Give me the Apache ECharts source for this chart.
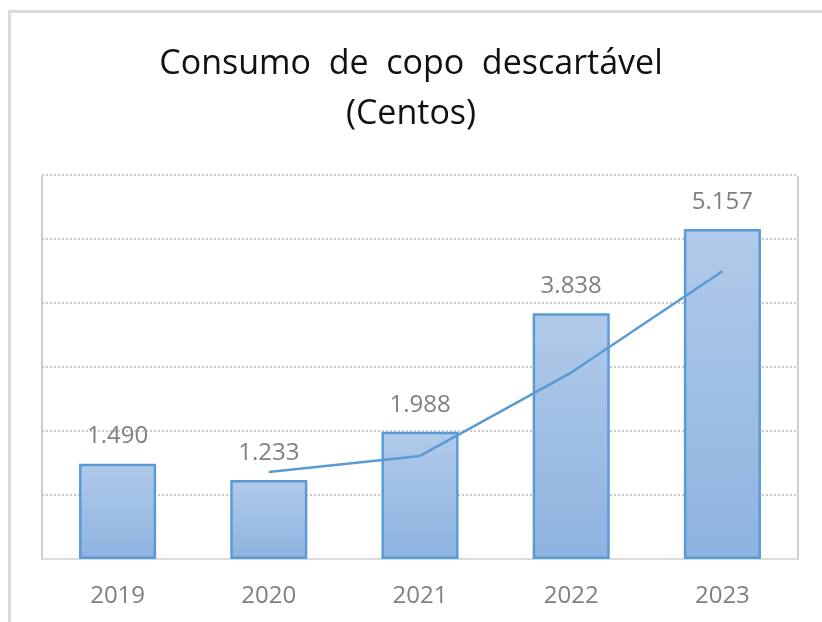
<!DOCTYPE html>
<html>
<head>
<meta charset="utf-8">
<script src="https://cdn.jsdelivr.net/npm/echarts@6/dist/echarts.min.js"></script>
<style>
  html, body { margin: 0; padding: 0; background: #fff; }
  #chart { width: 822px; height: 622px; }
  .frame { position: absolute; left: 8px; top: 10px; width: 830px; height: 630px;
    border-left: 3px solid #dadada; border-top: 3px solid #dadada; pointer-events: none; }
</style>
</head>
<body>
<div id="chart"></div>
<div class="frame"></div>
<script>
  // dados
  var anos = ['2019', '2020', '2021', '2022', '2023']
  var consumo = [1490, 1233, 1988, 3838, 5157]
  // linha de tendência (média móvel)
  var tendencia = [null, 1361, 1610, 2913, 4497]

  var fonte = '"Open Sans", "Noto Sans", sans-serif'

  function fmt (v) {
    return String(v).replace(/\B(?=(\d{3})+(?!\d))/g, '.')
  }

  var myChart = echarts.init(document.getElementById('chart'))
  myChart.setOption({
    animation: false,
    title: {
      text: 'Consumo  de  copo  descartável\n(Centos)',
      left: 'center',
      top: 34,
      textStyle: {
        fontFamily: fonte,
        fontSize: 34,
        fontWeight: 'normal',
        color: '#111',
        lineHeight: 50
      }
    },
    grid: {
      left: 42,
      right: 24,
      top: 175,
      bottom: 63
    },
    xAxis: [{
      type: 'category',
      data: anos,
      axisLine: { lineStyle: { color: '#d4d4d4', width: 2 } },
      axisTick: { show: false },
      axisLabel: {
        color: '#808080',
        fontFamily: fonte,
        fontSize: 24,
        margin: 25
      }
    }, {
      type: 'category',
      data: anos,
      position: 'top',
      axisLine: { lineStyle: { color: '#dcdcdc', width: 2 } },
      axisTick: { show: false },
      axisLabel: { show: false }
    }],
    yAxis: [{
      type: 'value',
      min: 0,
      max: 6000,
      interval: 1000,
      axisLabel: { show: false },
      axisTick: { show: false },
      axisLine: { show: true, lineStyle: { color: '#c8c8c8', type: 'dotted', width: 2 } },
      splitLine: { lineStyle: { color: '#c8c8c8', type: 'dotted', width: 2 } }
    }, {
      type: 'value',
      min: 0,
      max: 6000,
      interval: 1000,
      position: 'right',
      axisLabel: { show: false },
      axisTick: { show: false },
      axisLine: { show: true, lineStyle: { color: '#c8c8c8', type: 'dotted', width: 2 } },
      splitLine: { show: false }
    }],
    series: [{
      type: 'bar',
      data: consumo,
      barWidth: '51%',
      itemStyle: {
        color: new echarts.graphic.LinearGradient(0, 0, 0, 1, [
          { offset: 0, color: '#b1cae9' },
          { offset: 1, color: '#8db3e0' }
        ]),
        borderColor: '#5b9bd5',
        borderWidth: 2.5
      },
      label: {
        show: true,
        position: 'top',
        distance: 15,
        color: '#808080',
        fontFamily: fonte,
        fontSize: 24,
        formatter: function (p) { return fmt(p.value) }
      }
    }, {
      type: 'line',
      data: tendencia,
      showSymbol: false,
      symbol: 'none',
      lineStyle: { color: '#5b9bd5', width: 2.5 },
      z: 5
    }]
  })
</script>
</body>
</html>
